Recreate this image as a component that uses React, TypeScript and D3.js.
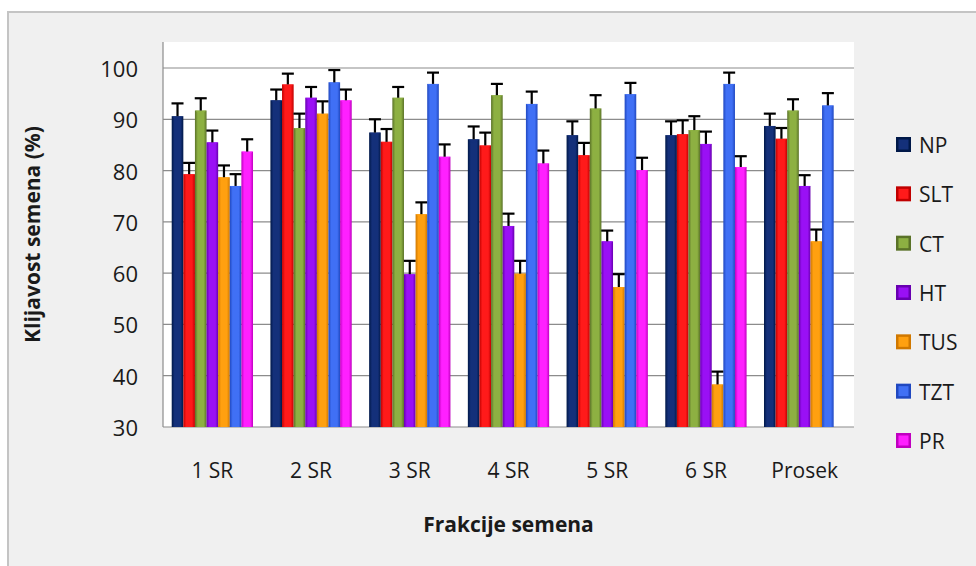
import React, { useEffect, useRef } from "react";
import * as d3 from "d3";

const categories = ["1 SR", "2 SR", "3 SR", "4 SR", "5 SR", "6 SR", "Prosek"];
const seriesNames = ["NP", "SLT", "CT", "HT", "TUS", "TZT", "PR"];

const npValues = [90.6, 93.7, 87.4, 86.1, 86.9, 86.9, 88.7];
const sltValues = [79.3, 96.8, 85.6, 84.9, 83.0, 87.1, 86.2];
const ctValues = [91.7, 88.3, 94.2, 94.7, 92.1, 87.9, 91.7];
const htValues = [85.5, 94.2, 59.8, 69.2, 66.2, 85.2, 77.0];
const tusValues = [78.7, 91.1, 71.5, 59.9, 57.3, 38.3, 66.2];
const tztValues = [77.0, 97.2, 96.9, 93.0, 94.9, 96.9, 92.7];
const prValues = [83.7, 93.7, 82.7, 81.4, 80.1, 80.7, null];

const npErr = [2.5, 2.1, 2.6, 2.5, 2.7, 2.7, 2.4];
const sltErr = [2.2, 2.1, 2.5, 2.5, 2.4, 2.7, 2.1];
const ctErr = [2.4, 2.8, 2.1, 2.2, 2.6, 2.7, 2.2];
const htErr = [2.3, 2.1, 2.6, 2.4, 2.1, 2.4, 2.1];
const tusErr = [2.3, 2.4, 2.3, 2.5, 2.5, 2.5, 2.3];
const tztErr = [2.3, 2.4, 2.2, 2.4, 2.2, 2.2, 2.4];
const prErr = [2.4, 2.1, 2.4, 2.5, 2.4, 2.1, null];

const yTicks = [30, 40, 50, 60, 70, 80, 90, 100];

// light / dark pairs for the bevelled look
const colors: Record<string, [string, string]> = {
  NP: ["#14307a", "#001848"],
  SLT: ["#ff1a1a", "#c00000"],
  CT: ["#8db042", "#5a7228"],
  HT: ["#9a10f5", "#6800b0"],
  TUS: ["#ffa010", "#d07800"],
  TZT: ["#4070f5", "#2048c0"],
  PR: ["#ff20ff", "#c000c0"],
};

const FONT = "'Open Sans', 'Noto Sans', sans-serif";

export default function App() {
  const svgRef = useRef<SVGSVGElement | null>(null);

  useEffect(() => {
    if (!svgRef.current) return;
    const width = 976, height = 566;
    const left = 163, right = 854, top = 42, bottom = 427;

    const series = [
      { name: "NP", values: npValues, err: npErr },
      { name: "SLT", values: sltValues, err: sltErr },
      { name: "CT", values: ctValues, err: ctErr },
      { name: "HT", values: htValues, err: htErr },
      { name: "TUS", values: tusValues, err: tusErr },
      { name: "TZT", values: tztValues, err: tztErr },
      { name: "PR", values: prValues, err: prErr },
    ];

    const svg = d3.select(svgRef.current);
    svg.selectAll("*").remove();

    const defs = svg.append("defs");
    seriesNames.forEach(n => {
      const [light, dark] = colors[n];
      const g = defs.append("linearGradient").attr("id", "g" + n)
        .attr("x1", 0).attr("x2", 1).attr("y1", 0).attr("y2", 0);
      g.append("stop").attr("offset", "0%").attr("stop-color", dark);
      g.append("stop").attr("offset", "25%").attr("stop-color", light);
      g.append("stop").attr("offset", "75%").attr("stop-color", light);
      g.append("stop").attr("offset", "100%").attr("stop-color", dark);
    });

    // chart frame
    svg.append("rect")
      .attr("x", 8).attr("y", 12).attr("width", width).attr("height", height)
      .attr("fill", "#f0f0f0").attr("stroke", "#c4c4c4").attr("stroke-width", 2);

    // plot area
    svg.append("rect")
      .attr("x", left).attr("y", top).attr("width", right - left).attr("height", bottom - top)
      .attr("fill", "#ffffff");

    const y = d3.scaleLinear().domain([30, 100]).range([bottom, 68]);
    const x0 = d3.scaleBand().domain(categories).range([left, right]).padding(0);
    const bw = x0.bandwidth() / 8.5;
    const x1 = d3.scaleBand().domain(seriesNames)
      .range([bw * 0.75, x0.bandwidth() - bw * 0.75]).padding(0);

    svg.append("g").selectAll("line").data(yTicks.slice(1)).enter().append("line")
      .attr("x1", left).attr("x2", right)
      .attr("y1", d => y(d)).attr("y2", d => y(d))
      .attr("stroke", "#8c8c8c").attr("stroke-width", 1.2);

    svg.append("line").attr("x1", left).attr("x2", left).attr("y1", top).attr("y2", bottom)
      .attr("stroke", "#8c8c8c").attr("stroke-width", 1.2);
    svg.append("line").attr("x1", left).attr("x2", right).attr("y1", bottom).attr("y2", bottom)
      .attr("stroke", "#8c8c8c").attr("stroke-width", 1.2);

    svg.append("g").selectAll("text").data(yTicks).enter().append("text")
      .attr("x", 138).attr("y", d => y(d))
      .attr("text-anchor", "end").attr("dominant-baseline", "central")
      .attr("font-family", FONT).attr("font-size", 22).attr("fill", "#1a1a1a")
      .text(d => d);

    svg.append("g").selectAll("text").data(categories).enter().append("text")
      .attr("x", d => (x0(d) as number) + x0.bandwidth() / 2).attr("y", 478)
      .attr("text-anchor", "middle")
      .attr("font-family", FONT).attr("font-size", 21).attr("fill", "#1a1a1a")
      .text(d => d);

    series.forEach(s => {
      const g = svg.append("g");
      const pts = categories.map((c, i) => ({ c, v: s.values[i], e: s.err[i] }))
        .filter(p => p.v != null) as { c: string; v: number; e: number }[];
      g.selectAll("rect").data(pts).enter().append("rect")
        .attr("x", p => (x0(p.c) as number) + (x1(s.name) as number))
        .attr("y", p => y(p.v))
        .attr("width", x1.bandwidth())
        .attr("height", p => bottom - y(p.v))
        .attr("fill", `url(#g${s.name})`);
      // bevel tip highlight
      g.selectAll("path").data(pts).enter().append("path")
        .attr("d", p => {
          const bx = (x0(p.c) as number) + (x1(s.name) as number);
          const by = y(p.v);
          const w = x1.bandwidth();
          return `M${bx},${by}L${bx + w},${by}L${bx + w / 2},${by + w * 0.35}Z`;
        })
        .attr("fill", colors[s.name][0]).attr("opacity", 0.9);
      const eb = g.selectAll("g.err").data(pts).enter().append("g");
      eb.append("line")
        .attr("x1", p => (x0(p.c) as number) + (x1(s.name) as number) + x1.bandwidth() / 2)
        .attr("x2", p => (x0(p.c) as number) + (x1(s.name) as number) + x1.bandwidth() / 2)
        .attr("y1", p => y(p.v)).attr("y2", p => y(p.v + p.e))
        .attr("stroke", "#000").attr("stroke-width", 2.2);
      eb.append("line")
        .attr("x1", p => (x0(p.c) as number) + (x1(s.name) as number) + x1.bandwidth() / 2 - 6)
        .attr("x2", p => (x0(p.c) as number) + (x1(s.name) as number) + x1.bandwidth() / 2 + 6)
        .attr("y1", p => y(p.v + p.e)).attr("y2", p => y(p.v + p.e))
        .attr("stroke", "#000").attr("stroke-width", 2.2);
    });

    // axis titles
    svg.append("text")
      .attr("transform", `translate(40,${(top + bottom) / 2}) rotate(-90)`)
      .attr("text-anchor", "middle")
      .attr("font-family", FONT).attr("font-size", 21).attr("font-weight", "bold").attr("fill", "#1a1a1a")
      .text("Klijavost semena (%)");
    svg.append("text")
      .attr("x", (left + right) / 2).attr("y", 532)
      .attr("text-anchor", "middle")
      .attr("font-family", FONT).attr("font-size", 21).attr("font-weight", "bold").attr("fill", "#1a1a1a")
      .text("Frakcije semena");

    // legend
    const ly = d3.scalePoint().domain(seriesNames).range([145, 441]);
    const lg = svg.append("g").selectAll("g").data(seriesNames).enter().append("g")
      .attr("transform", d => `translate(896,${ly(d)})`);
    lg.append("rect").attr("x", 0).attr("y", -8).attr("width", 15).attr("height", 15)
      .attr("fill", d => colors[d][1]);
    lg.append("rect").attr("x", 2.5).attr("y", -5.5).attr("width", 10).attr("height", 10)
      .attr("fill", d => colors[d][0]);
    lg.append("text").attr("x", 23).attr("y", 0).attr("dominant-baseline", "central")
      .attr("font-family", FONT).attr("font-size", 21).attr("fill", "#1a1a1a")
      .text(d => d);
  }, []);

  return (
    <div style={{ position: "absolute", left: 0, top: 0 }}>
      <svg ref={svgRef} width={976} height={566} style={{ display: "block" }}></svg>
    </div>
  );
}
